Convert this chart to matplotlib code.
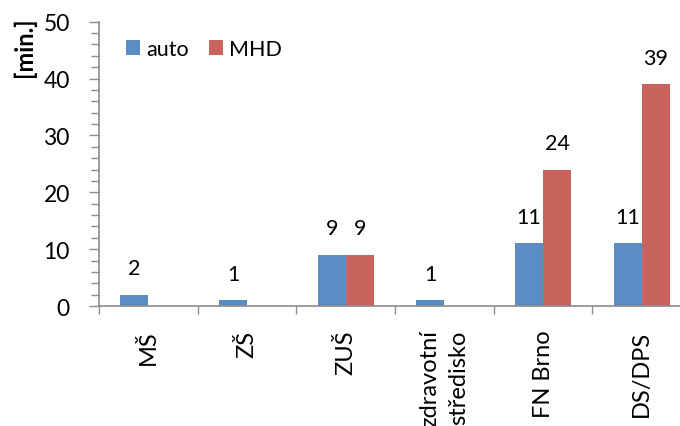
import matplotlib
matplotlib.use("Agg")
import matplotlib.pyplot as plt
import numpy as np

categories = ["MŠ", "ZŠ", "ZUŠ", "zdravotní\nstředisko", "FN Brno", "DS/DPS"]
auto = [2, 1, 9, 1, 11, 11]
mhd = [0, 0, 9, 0, 24, 39]
series_names = ["auto", "MHD"]
colors = ["#5B8CC3", "#C9635E"]

plt.rcParams['font.family'] = ['Lato', 'DejaVu Sans']

W, H = 680, 427
fig = plt.figure(figsize=(W / 100, H / 100), dpi=100)
left, right = 99, 691
top, bottom = 22.7, 307
ax = fig.add_axes([left / W, 1 - bottom / H, (right - left) / W, (bottom - top) / H])

x = np.arange(len(categories))
bw = 0.284
b1 = ax.bar(x - bw / 2, auto, bw, color=colors[0], label=series_names[0])
b2 = ax.bar(x + bw / 2, mhd, bw, color=colors[1], label=series_names[1])

for bars, vals in ((b1, auto), (b2, mhd)):
    for rect, v in zip(bars, vals):
        if v:
            ax.annotate(str(v), (rect.get_x() + rect.get_width() / 2, v),
                        xytext=(0, 19), textcoords="offset points",
                        ha="center", va="center", fontsize=15.5)

ax.set_xlim(-0.5, len(categories) - 0.5)
ax.set_ylim(0, 50)
ax.set_yticks(np.arange(0, 51, 10))
ax.set_yticks(np.arange(0, 51, 2), minor=True)
ax.set_xticks(x)
ax.set_xticklabels(categories, rotation=90, va="top", ha="center", fontsize=17,
                   linespacing=1.45, multialignment="right")
ax.set_xticks(np.arange(-0.5, len(categories), 1), minor=True)

for s in ("top", "right"):
    ax.spines[s].set_visible(False)
for s in ("left", "bottom"):
    ax.spines[s].set_color("#8C8C8C")
    ax.spines[s].set_linewidth(1.2)

ax.tick_params(axis="y", which="major", direction="out", length=7, width=1,
               color="#8C8C8C", labelsize=16.5, pad=14)
ax.tick_params(axis="y", which="minor", direction="out", length=5.5, width=1,
               color="#8C8C8C")
ax.tick_params(axis="x", which="major", length=0, pad=17)
ax.tick_params(axis="x", which="minor", direction="out", length=6, width=1,
               color="#8C8C8C")

fig.text(24 / W, 1 - 47 / H, "[min.]", rotation=90, ha="center", va="center",
         fontsize=17, fontweight="bold")

leg = ax.legend(loc="center left", bbox_to_anchor=(126 / W, 1 - 50 / H),
                bbox_transform=fig.transFigure, ncol=2, frameon=False,
                handlelength=0.65, handleheight=0.65, handletextpad=0.28,
                columnspacing=0.93, fontsize=15.5, borderpad=0, borderaxespad=0)

fig.savefig("out.png", dpi=100)
